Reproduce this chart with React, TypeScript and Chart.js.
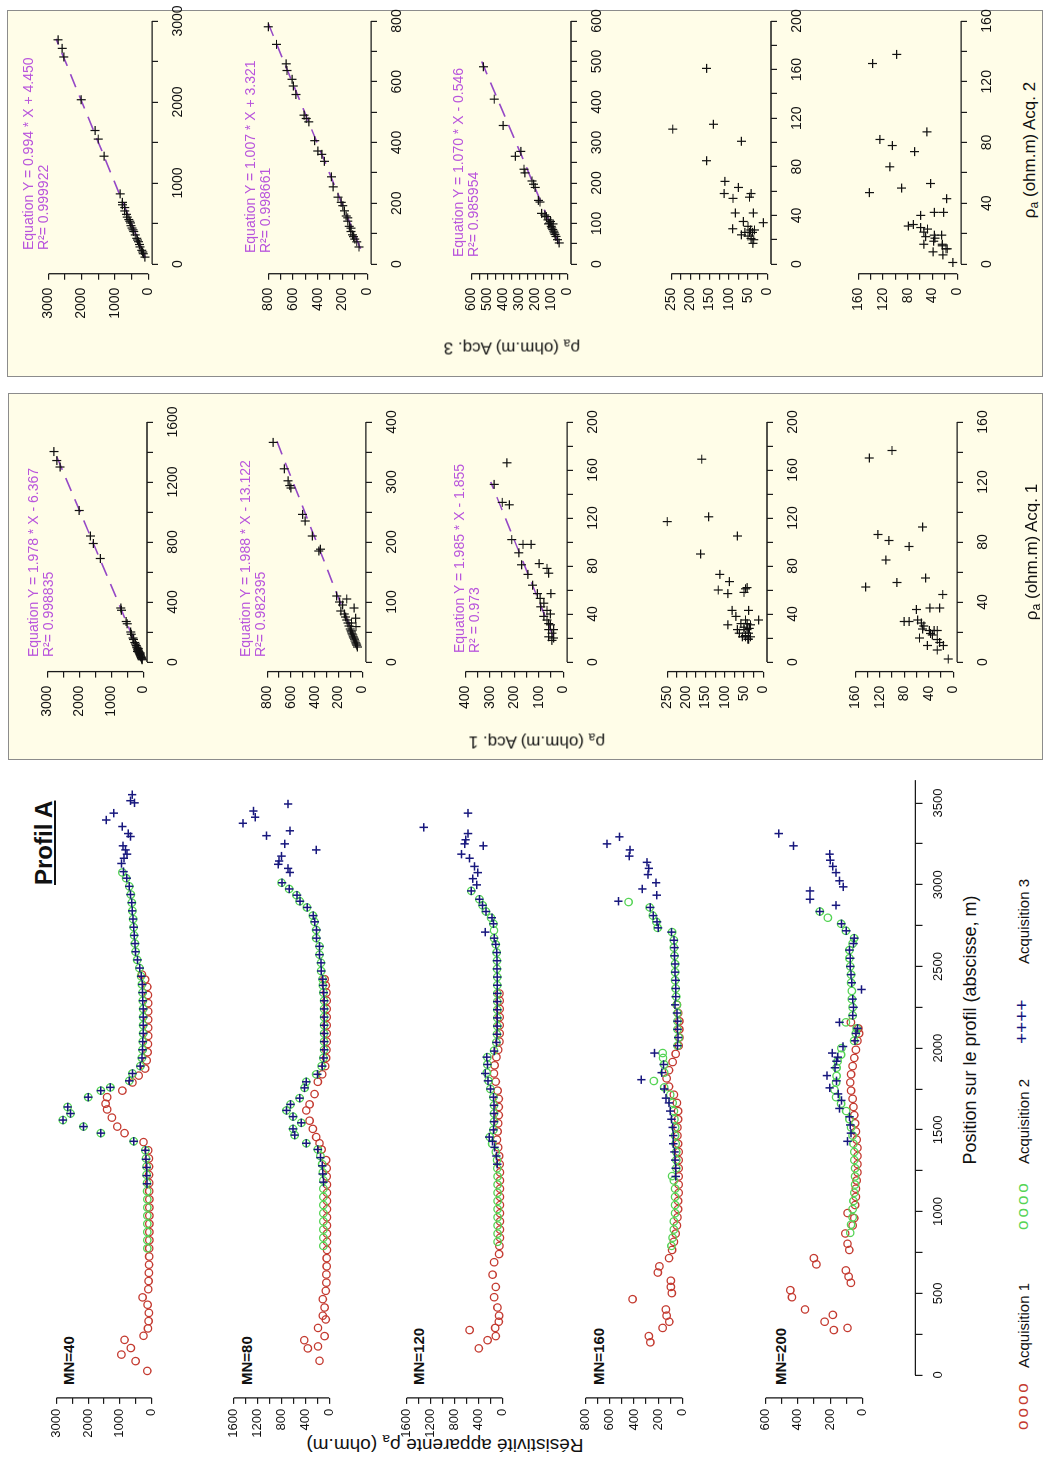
import React, { useEffect, useRef } from 'react';
import { Chart, registerables } from 'chart.js';

Chart.register(...registerables);

const FONT = '"Liberation Sans", Arial, Helvetica, sans-serif';

// ================= Tick values / labels =================
const POS_TICKS = [0, 250, 500, 750, 1000, 1250, 1500, 1750, 2000, 2250, 2500, 2750, 3000, 3250, 3500];
const POS_LABELS = [0, 500, 1000, 1500, 2000, 2500, 3000, 3500];
const T3000 = [0, 500, 1000, 1500, 2000, 2500, 3000];
const L3000 = [0, 1000, 2000, 3000];
const T1600 = [0, 200, 400, 600, 800, 1000, 1200, 1400, 1600];
const L1600 = [0, 400, 800, 1200, 1600];
const T800 = [0, 100, 200, 300, 400, 500, 600, 700, 800];
const L800 = [0, 200, 400, 600, 800];
const T600P = [0, 100, 200, 300, 400, 500, 600];
const L600P = [0, 200, 400, 600];
const T600 = [0, 50, 100, 150, 200, 250, 300, 350, 400, 450, 500, 550, 600];
const L600 = [0, 100, 200, 300, 400, 500, 600];
const T400 = [0, 50, 100, 150, 200, 250, 300, 350, 400];
const L400 = [0, 100, 200, 300, 400];
const T250 = [0, 25, 50, 75, 100, 125, 150, 175, 200, 225, 250];
const L250 = [0, 50, 100, 150, 200, 250];
const T200 = [0, 20, 40, 60, 80, 100, 120, 140, 160, 180, 200];
const L200 = [0, 40, 80, 120, 160, 200];
const T160 = [0, 20, 40, 60, 80, 100, 120, 140, 160];
const L160 = [0, 40, 80, 120, 160];

// ================= Profil A data: [position (m), rho_a (ohm.m)] =================
const MN40_ACQ1 = [[25,130],[85,500],[125,950],[165,650],[215,850],[240,250],[285,110],[330,90],[380,80],[430,120],[475,280],[525,100],[575,90],[625,80],[675,75],[725,70],[775,70],[825,65],[875,65],[925,65],[975,65],[1025,65],[1075,65],[1125,70],[1175,70],[1225,75],[1275,75],[1325,80],[1375,100],[1425,250],[1480,850],[1520,1080],[1575,1250],[1625,1400],[1660,1450],[1700,1400],[1740,920],[1790,600],[1832,400],[1875,200],[1925,150],[1975,120],[2025,110],[2075,100],[2125,100],[2175,100],[2225,100],[2275,100],[2325,110],[2375,130],[2420,200],[2450,300]];
const MN40_ACQ2 = [[775,130],[825,130],[875,130],[925,130],[975,130],[1025,130],[1075,130],[1125,135],[1175,140],[1225,150],[1275,150],[1325,170],[1375,190],[1430,560],[1480,1600],[1520,2150],[1560,2800],[1600,2560],[1640,2650],[1700,2000],[1740,1600],[1760,1300],[1800,700],[1845,600],[1890,350],[1940,300],[1990,280],[2040,270],[2090,260],[2140,260],[2190,260],[2240,260],[2290,270],[2340,280],[2390,300],[2440,330],[2490,380],[2540,450],[2590,500],[2640,520],[2690,550],[2740,560],[2790,580],[2840,600],[2890,620],[2940,650],[2990,700],[3040,800],[3075,920]];
const MN40_ACQ3 = [[1170,140],[1220,150],[1270,150],[1320,170],[1375,190],[1430,560],[1480,1600],[1520,2150],[1560,2800],[1600,2560],[1640,2650],[1700,2000],[1740,1600],[1760,1300],[1800,700],[1845,600],[1890,350],[1940,300],[1990,280],[2040,270],[2090,260],[2140,255],[2190,260],[2240,260],[2290,270],[2340,280],[2390,290],[2440,320],[2490,370],[2540,440],[2590,500],[2640,520],[2690,540],[2740,560],[2790,580],[2840,610],[2890,620],[2940,660],[2990,700],[3040,780],[3080,880],[3130,945],[3162,870],[3187,770],[3213,820],[3238,900],[3295,660],[3313,735],[3356,920],[3396,1430],[3438,1190],[3501,535],[3514,660],[3551,610]];

const MN80_ACQ1 = [[87,165],[163,360],[175,190],[213,420],[238,80],[288,190],[340,60],[363,110],[413,80],[464,110],[515,60],[565,50],[615,50],[665,45],[715,45],[765,40],[815,40],[865,40],[915,40],[965,40],[1015,40],[1065,40],[1115,40],[1165,40],[1215,45],[1265,45],[1315,55],[1380,130],[1418,165],[1456,220],[1506,276],[1556,331],[1619,386],[1656,331],[1719,248],[1794,193],[1840,120],[1890,70],[1940,55],[1990,50],[2040,45],[2090,45],[2140,45],[2190,45],[2240,45],[2290,45],[2340,50],[2384,60],[2422,80]];
const MN80_ACQ2 = [[790,100],[840,100],[890,100],[940,100],[990,100],[1040,100],[1090,100],[1140,100],[1190,100],[1240,110],[1290,120],[1340,150],[1380,193],[1418,386],[1468,580],[1506,607],[1543,469],[1581,607],[1619,717],[1656,650],[1694,497],[1757,414],[1794,386],[1840,220],[1890,130],[1940,100],[1990,90],[2040,90],[2090,90],[2140,90],[2190,90],[2240,90],[2290,90],[2340,100],[2384,110],[2422,115],[2472,138],[2522,140],[2572,165],[2623,165],[2673,220],[2723,220],[2773,248],[2811,276],[2861,375],[2899,497],[2936,550],[2974,673],[3012,800]];
const MN80_ACQ3 = [[1180,100],[1230,110],[1280,120],[1330,150],[1380,193],[1418,386],[1468,580],[1506,607],[1543,469],[1581,607],[1619,717],[1656,650],[1694,497],[1757,414],[1794,386],[1840,200],[1890,120],[1940,95],[1990,85],[2040,85],[2090,85],[2140,85],[2190,85],[2240,85],[2290,85],[2340,95],[2384,105],[2422,110],[2472,135],[2522,140],[2572,165],[2623,165],[2673,215],[2723,215],[2773,245],[2811,270],[2861,370],[2899,490],[2936,540],[2974,670],[3012,790],[3075,660],[3100,690],[3125,855],[3145,840],[3175,800],[3213,220],[3250,745],[3300,1050],[3330,660],[3376,1445],[3413,1240],[3451,1270],[3494,690]];

const MN120_ACQ1 = [[163,394],[213,247],[238,110],[275,548],[288,120],[326,60],[363,55],[413,82],[476,137],[539,110],[614,164],[690,137],[740,55],[790,50],[840,40],[890,40],[940,40],[990,40],[1040,40],[1090,40],[1140,40],[1190,40],[1240,40],[1290,45],[1340,55],[1393,70],[1440,90],[1490,80],[1540,70],[1590,60],[1640,60],[1690,60],[1740,80],[1795,110],[1845,140],[1895,130],[1945,100],[1990,70],[2040,50],[2090,45],[2140,45],[2190,45],[2240,45],[2290,45],[2334,50]];
const MN120_ACQ2 = [[815,80],[865,80],[915,80],[965,80],[1015,80],[1065,80],[1115,80],[1165,80],[1215,80],[1265,85],[1315,90],[1365,110],[1415,170],[1456,210],[1500,150],[1550,140],[1600,140],[1650,140],[1700,150],[1750,200],[1800,230],[1850,260],[1900,250],[1945,250],[1985,140],[2035,100],[2085,90],[2135,85],[2185,85],[2235,85],[2285,85],[2335,85],[2385,85],[2435,85],[2485,90],[2535,90],[2585,95],[2635,110],[2673,140],[2720,140],[2761,150],[2798,190],[2836,274],[2874,330],[2911,384],[2962,520]];
const MN120_ACQ3 = [[1290,85],[1340,100],[1393,130],[1430,164],[1456,219],[1500,150],[1550,140],[1600,140],[1650,140],[1700,150],[1750,200],[1800,240],[1845,285],[1900,250],[1945,263],[1982,137],[2035,100],[2085,90],[2135,85],[2185,85],[2235,85],[2285,85],[2335,85],[2385,85],[2435,85],[2485,90],[2535,90],[2585,95],[2635,110],[2673,137],[2710,285],[2761,150],[2798,175],[2836,274],[2874,330],[2911,384],[2962,520],[2999,427],[3037,493],[3074,411],[3112,466],[3162,548],[3187,685],[3238,318],[3250,630],[3275,614],[3313,575],[3351,1315],[3438,575]];

const MN160_ACQ1 = [[200,265],[238,277],[288,163],[326,108],[363,130],[401,136],[464,412],[501,87],[539,95],[577,95],[627,203],[665,190],[715,110],[765,85],[815,70],[865,55],[915,45],[965,40],[1015,35],[1065,35],[1115,30],[1165,30],[1215,30],[1265,30],[1315,30],[1365,30],[1415,35],[1465,40],[1515,40],[1565,35],[1615,35],[1665,45],[1715,70],[1765,110],[1815,130],[1865,110],[1915,80],[1965,55],[2015,30],[2065,25],[2115,25],[2165,25],[2215,35],[2265,45]];
const MN160_ACQ2 = [[790,90],[840,80],[890,70],[940,70],[990,60],[1040,60],[1090,60],[1140,60],[1190,70],[1217,85],[1265,50],[1315,50],[1365,50],[1415,55],[1465,60],[1515,60],[1565,65],[1615,70],[1665,80],[1715,100],[1760,150],[1799,236],[1850,150],[1900,150],[1940,160],[1970,163],[2015,40],[2065,30],[2115,40],[2165,40],[2215,40],[2265,45],[2315,50],[2365,55],[2415,60],[2465,60],[2515,60],[2565,65],[2615,70],[2660,70],[2710,85],[2736,205],[2773,215],[2811,245],[2861,270],[2894,445]];
const MN160_ACQ3 = [[1215,55],[1265,55],[1315,60],[1365,65],[1415,75],[1465,75],[1515,80],[1565,90],[1615,100],[1665,110],[1694,136],[1750,150],[1807,339],[1850,170],[1900,155],[1970,230],[2015,40],[2065,35],[2115,40],[2165,40],[2215,45],[2265,60],[2315,55],[2365,55],[2415,55],[2465,60],[2515,60],[2565,65],[2615,65],[2660,70],[2710,90],[2736,200],[2773,210],[2811,240],[2861,265],[2899,529],[2936,212],[2974,331],[3012,217],[3062,285],[3100,277],[3137,293],[3175,439],[3213,434],[3250,624],[3293,521]];

const MN200_ACQ1 = [[275,177],[288,92],[326,234],[368,183],[401,356],[476,437],[519,447],[564,71],[602,85],[640,102],[677,285],[715,301],[765,81],[803,92],[866,106],[915,60],[960,50],[991,92],[1040,45],[1090,40],[1140,40],[1190,35],[1240,30],[1290,30],[1340,30],[1390,30],[1440,35],[1490,40],[1540,45],[1590,50],[1640,55],[1690,60],[1740,70],[1790,75],[1840,70],[1890,60],[1940,50],[1990,40],[2045,30],[2090,20],[2121,25],[2158,71]];
const MN200_ACQ2 = [[870,75],[920,70],[965,60],[1015,60],[1065,55],[1115,50],[1165,45],[1215,45],[1265,45],[1315,50],[1365,50],[1415,55],[1465,60],[1515,70],[1565,80],[1615,100],[1660,132],[1700,163],[1745,173],[1790,163],[1830,160],[1880,160],[1920,153],[1960,132],[2000,130],[2045,51],[2090,40],[2121,35],[2158,102],[2200,60],[2250,60],[2300,65],[2350,65],[2400,70],[2450,70],[2500,75],[2550,80],[2600,80],[2640,60],[2673,51],[2718,102],[2761,132],[2798,214],[2836,264]];
const MN200_ACQ3 = [[1430,92],[1480,70],[1530,75],[1580,80],[1631,142],[1680,130],[1720,150],[1757,203],[1800,160],[1832,220],[1880,170],[1920,160],[1945,153],[1970,187],[2010,120],[2045,45],[2090,40],[2121,30],[2158,142],[2200,60],[2250,55],[2300,60],[2359,5],[2400,65],[2450,70],[2500,75],[2550,75],[2600,80],[2640,55],[2673,50],[2718,100],[2761,130],[2836,264],[2874,163],[2911,325],[2962,325],[2987,118],[3024,142],[3074,163],[3112,183],[3150,199],[3187,203],[3238,427],[3313,519]];

// ================= Correlation panels: [x, y] =================
const ACQ1_P1 = [[1403,2790],[1343,2700],[1300,2600],[1010,2000],[840,1650],[790,1560],[690,1340],[360,700],[345,680],[270,530],[255,500],[200,390],[185,370],[160,320],[150,300],[130,260],[120,240],[110,220],[100,200],[95,190],[85,170],[80,160],[75,150],[70,140],[65,130],[60,120],[55,110],[50,100],[45,90],[40,85],[35,70],[30,60],[25,50],[20,40],[15,30],[90,150],[70,180],[60,90]];
const ACQ1_P2 = [[366,750],[322,656],[302,624],[294,610],[290,600],[246,502],[235,480],[210,420],[185,365],[188,352],[110,215],[100,190],[95,165],[85,180],[80,150],[75,140],[70,130],[65,120],[60,110],[55,100],[52,95],[50,90],[47,85],[45,80],[42,75],[40,70],[38,65],[35,60],[32,55],[30,50],[28,45],[25,40],[90,68],[73,55],[59,52],[105,130],[65,90]];
const ACQ1_P3 = [[148,282],[166,230],[133,249],[131,220],[102,210],[91,181],[98,164],[81,170],[98,131],[73,144],[82,98],[78,66],[74,59],[57,50],[57,105],[64,125],[46,92],[43,66],[38,79],[35,66],[32,59],[31,52],[24,46],[20,39],[18,46],[27,59],[49,79],[53,94],[40,52],[21,59],[27,39]];
const ACQ1_P4 = [[117,250],[169,160],[90,163],[121,142],[105,67],[73,113],[60,117],[67,88],[57,92],[43,81],[61,46],[62,42],[58,50],[43,38],[35,12],[31,92],[38,71],[27,67],[24,62],[35,46],[29,50],[27,42],[24,38],[21,46],[19,38],[32,58],[32,42],[31,33],[27,50],[22,46],[21,54],[28,36],[21,33],[19,40]];
const ACQ1_P5 = [[136,137],[141,100],[85,123],[81,105],[77,72],[90,50],[68,110],[50,143],[53,92],[56,45],[45,17],[35,60],[36,38],[36,22],[27,80],[27,72],[28,58],[26,52],[24,48],[16,55],[21,39],[19,37],[21,31],[21,26],[11,42],[15,26],[13,22],[11,16],[8,26],[2,8],[18,34],[22,50]];

const ACQ3_P1 = [[2768,2710],[2662,2584],[2556,2535],[2028,2013],[1648,1597],[1542,1500],[1331,1326],[866,842],[761,774],[697,706],[613,648],[549,580],[507,532],[444,484],[359,387],[317,339],[275,290],[211,242],[169,194],[127,145],[85,97],[655,706],[579,629],[473,513],[401,435],[296,319],[241,261],[148,165],[731,774],[528,552],[422,455]];
const ACQ3_P2 = [[781,800],[723,734],[659,656],[637,649],[608,608],[586,598],[558,577],[490,511],[479,493],[468,472],[406,425],[372,399],[361,367],[338,346],[287,289],[254,275],[220,236],[192,197],[175,184],[158,170],[141,157],[124,144],[107,131],[96,118],[82,100],[73,84],[56,66],[203,210],[152,157],[118,131],[90,110]];
const ACQ3_P3 = [[487,524],[407,456],[342,400],[266,324],[278,290],[234,270],[225,264],[205,220],[197,210],[189,200],[157,180],[153,170],[125,160],[121,140],[109,120],[101,110],[93,100],[85,90],[77,80],[68,70],[60,60],[52,50],[105,104],[89,96],[81,84],[73,76],[117,130],[99,116],[99,88]];
const ACQ3_P4 = [[111,246],[161,158],[115,140],[85,158],[101,67],[68,110],[58,112],[63,75],[54,89],[58,42],[55,46],[34,10],[42,36],[42,83],[29,90],[35,62],[24,67],[31,50],[26,46],[21,42],[20,35],[28,43],[26,58],[26,38],[23,50],[28,33],[17,37]];
const ACQ3_P5 = [[132,137],[138,98],[82,125],[78,105],[74,69],[87,49],[64,109],[47,142],[50,90],[53,43],[43,17],[32,59],[34,37],[34,22],[25,79],[26,71],[24,59],[21,54],[18,51],[13,54],[19,37],[17,36],[19,25],[13,24],[8,39],[12,24],[10,18],[10,16],[6,23],[1,7],[23,48],[15,38]];

// regression fits: slope, intercept, x range of the dashed line, texts
const ACQ1_FITS = [
  { a: 1.978, b: -6.367, from: 10, to: 1420, eq: 'Equation Y = 1.978 * X - 6.367', r2: 'R²= 0.998835' },
  { a: 1.988, b: -13.122, from: 25, to: 375, eq: 'Equation Y = 1.988 * X - 13.122', r2: 'R²= 0.982395' },
  { a: 1.985, b: -1.855, from: 20, to: 150, eq: 'Equation Y = 1.985 * X - 1.855', r2: 'R² = 0.973' },
];
const ACQ3_FITS = [
  { a: 0.994, b: 4.45, from: 80, to: 2780, eq: 'Equation Y = 0.994 * X + 4.450', r2: 'R²= 0.999922' },
  { a: 1.007, b: 3.321, from: 50, to: 790, eq: 'Equation Y = 1.007 * X + 3.321', r2: 'R²= 0.998661' },
  { a: 1.07, b: -0.546, from: 50, to: 500, eq: 'Equation Y = 1.070 * X - 0.546', r2: 'R²= 0.985954' },
];

// ================= Styles =================
const C_ACQ1 = '#C43A30';
const C_ACQ2 = '#55D455';
const C_ACQ3 = '#17177E';
const C_FIT = '#9548C6';
const C_EQ = '#B955DC';
const BOX_BG = '#FFFDE8';
const BOX_BORDER = '#8C8C8C';

// ================= Layout (landscape coordinates, rotated afterwards) =================
const PROFIL_X = { p0: 89, pM: 661 };
const PROFIL_ROWS = [
  { pyM: 56, py0: 152, labelY: 61 },
  { pyM: 233, py0: 330, labelY: 239 },
  { pyM: 406, py0: 503, labelY: 411 },
  { pyM: 585, py0: 683, labelY: 591 },
  { pyM: 765, py0: 863, labelY: 773 },
];
const ACQ1_X = { p0: 802, pM: 1042 };
const ACQ1_ROWS = [
  { pyM: 43, py0: 143 }, { pyM: 263, py0: 362 }, { pyM: 462, py0: 563 }, { pyM: 663, py0: 763 }, { pyM: 852, py0: 953 },
];
const ACQ3_X = { p0: 1200, pM: 1443 };
const ACQ3_ROWS = [
  { pyM: 45, py0: 148 }, { pyM: 265, py0: 367 }, { pyM: 467, py0: 567 }, { pyM: 667, py0: 767 }, { pyM: 855, py0: 957 },
];
const ACQ1_EQ_POS = [{ x: 807, y: 26 }, { x: 807, y: 238 }, { x: 811, y: 452 }];
const ACQ3_EQ_POS = [{ x: 1214, y: 21 }, { x: 1211, y: 243 }, { x: 1207, y: 451 }];

type Pair = number[];
const toXY = (pairs: Pair[]) => pairs.map((p) => ({ x: p[0], y: p[1] }));

function circles(pairs: Pair[], color: string) {
  return {
    data: toXY(pairs), showLine: false, clip: false,
    pointStyle: 'circle', pointRadius: 3.7, pointBorderWidth: 1.3,
    pointBorderColor: color, pointBackgroundColor: 'rgba(0,0,0,0)',
    borderColor: color, backgroundColor: 'rgba(0,0,0,0)',
  };
}
function crosses(pairs: Pair[], color: string, r: number, w: number) {
  return {
    data: toXY(pairs), showLine: false, clip: false,
    pointStyle: 'cross', pointRadius: r, pointBorderWidth: w,
    pointBorderColor: color, pointBackgroundColor: color,
    borderColor: color, backgroundColor: color,
  };
}
function fitLine(f: any) {
  return {
    data: [{ x: f.from, y: f.a * f.from + f.b }, { x: f.to, y: f.a * f.to + f.b }],
    showLine: true, clip: false, pointRadius: 0, borderColor: C_FIT, borderWidth: 1.6,
    borderDash: [14, 9], backgroundColor: C_FIT, fill: false,
  };
}

interface AxisCfg { max: number; ticks: number[]; labels: number[]; show: boolean; font: number; tickLength: number; padding: number; line?: number[]; }
interface PanelCfg {
  px0: number; pxM: number; pyM: number; py0: number; x: AxisCfg; y: AxisCfg;
  leftSpace: number; bottomSpace: number; padTop: number; padRight: number; datasets: any[];
}

function buildPanel(cfg: PanelCfg) {
  const sx = (cfg.pxM - cfg.px0) / cfg.x.max;
  const sy = (cfg.py0 - cfg.pyM) / cfg.y.max;
  const xmin = -0.04 * cfg.x.max, xmax = 1.04 * cfg.x.max;
  const ymin = -0.04 * cfg.y.max, ymax = 1.04 * cfg.y.max;
  const l = cfg.px0 + xmin * sx, r = cfg.px0 + xmax * sx;
  const t = cfg.py0 - ymax * sy, b = cfg.py0 - ymin * sy;
  const cl = Math.floor(l - cfg.leftSpace), ct = Math.floor(t - cfg.padTop);
  const cr = Math.ceil(r + cfg.padRight), cb = Math.ceil(b + cfg.bottomSpace);
  const w = cr - cl, h = cb - ct;
  const leftW = l - cl, bottomH = cb - b, padT = t - ct, padR = cr - r;

  const axis = (a: AxisCfg, horizontal: boolean, min: number, max: number, fit: number) => {
    const sc: any = {
      type: 'linear', min, max, display: a.show, position: horizontal ? 'bottom' : 'left',
      afterBuildTicks: (s: any) => { s.ticks = a.ticks.map((v) => ({ value: v })); },
      ticks: {
        autoSkip: false, maxRotation: 0, minRotation: 0, padding: a.padding, color: '#111',
        font: { size: a.font, family: FONT },
        callback: (v: number) => (a.labels.indexOf(v) >= 0 ? String(v) : ''),
      },
      grid: { display: true, drawOnChartArea: false, drawTicks: true, tickLength: a.tickLength, color: '#1a1a1a', lineWidth: 1.2 },
      border: { display: false },
    };
    if (a.show) sc.afterFit = (s: any) => { if (horizontal) s.height = fit; else s.width = fit; };
    return sc;
  };

  const xLine = cfg.x.show ? (cfg.x.line || [cfg.x.ticks[0], cfg.x.ticks[cfg.x.ticks.length - 1]]) : null;
  const yLine = cfg.y.show ? (cfg.y.line || [cfg.y.ticks[0], cfg.y.ticks[cfg.y.ticks.length - 1]]) : null;
  const rAxis = {
    id: 'rAxis',
    afterDraw(chart: any) {
      const ctx = chart.ctx;
      ctx.save();
      ctx.strokeStyle = '#1a1a1a';
      ctx.lineWidth = 1.3;
      if (xLine) {
        const s = chart.scales.x;
        ctx.beginPath();
        ctx.moveTo(s.getPixelForValue(xLine[0]), s.top);
        ctx.lineTo(s.getPixelForValue(xLine[1]), s.top);
        ctx.stroke();
      }
      if (yLine) {
        const s = chart.scales.y;
        ctx.beginPath();
        ctx.moveTo(s.right, s.getPixelForValue(yLine[0]));
        ctx.lineTo(s.right, s.getPixelForValue(yLine[1]));
        ctx.stroke();
      }
      ctx.restore();
    },
  };

  const config: any = {
    type: 'scatter',
    data: { datasets: cfg.datasets },
    options: {
      responsive: false, animation: false, devicePixelRatio: 1, events: [],
      layout: { padding: { left: cfg.y.show ? 0 : leftW, right: padR, top: padT, bottom: cfg.x.show ? 0 : bottomH } },
      plugins: { legend: { display: false }, tooltip: { enabled: false } },
      scales: { x: axis(cfg.x, true, xmin, xmax, bottomH), y: axis(cfg.y, false, ymin, ymax, leftW) },
    },
    plugins: [rAxis],
  };
  return { left: cl, top: ct, w, h, config };
}

function ChartCanvas({ spec }: { spec: any }) {
  const ref = useRef<HTMLCanvasElement>(null);
  useEffect(() => {
    const chart = new Chart(ref.current as HTMLCanvasElement, spec.config);
    return () => chart.destroy();
  }, []);
  return (
    <canvas ref={ref} width={spec.w} height={spec.h}
      style={{ position: 'absolute', left: spec.left, top: spec.top, width: spec.w, height: spec.h }} />
  );
}

// ---------- Profil A panel specs ----------
const PROFIL_PANELS = [
  { name: 'MN=40', acq1: MN40_ACQ1, acq2: MN40_ACQ2, acq3: MN40_ACQ3, yMax: 3000, yTicks: T3000, yLabels: L3000 },
  { name: 'MN=80', acq1: MN80_ACQ1, acq2: MN80_ACQ2, acq3: MN80_ACQ3, yMax: 1600, yTicks: T1600, yLabels: L1600 },
  { name: 'MN=120', acq1: MN120_ACQ1, acq2: MN120_ACQ2, acq3: MN120_ACQ3, yMax: 1600, yTicks: T1600, yLabels: L1600 },
  { name: 'MN=160', acq1: MN160_ACQ1, acq2: MN160_ACQ2, acq3: MN160_ACQ3, yMax: 800, yTicks: T800, yLabels: L800 },
  { name: 'MN=200', acq1: MN200_ACQ1, acq2: MN200_ACQ2, acq3: MN200_ACQ3, yMax: 600, yTicks: T600P, yLabels: L600P },
];

const profilSpecs = PROFIL_PANELS.map((p, i) => buildPanel({
  px0: PROFIL_X.p0, pxM: PROFIL_X.pM, pyM: PROFIL_ROWS[i].pyM, py0: PROFIL_ROWS[i].py0,
  x: { max: 3500, ticks: POS_TICKS, labels: POS_LABELS, show: false, font: 13, tickLength: 7, padding: 8 },
  y: { max: p.yMax, ticks: p.yTicks, labels: p.yLabels, show: true, font: 13, tickLength: 6, padding: 5 },
  leftSpace: 60, bottomSpace: 12, padTop: 12, padRight: 16,
  datasets: [crosses(p.acq3, C_ACQ3, 4.2, 1.5), circles(p.acq2, C_ACQ2), circles(p.acq1, C_ACQ1)],
}));

const positionAxisSpec = buildPanel({
  px0: PROFIL_X.p0, pxM: PROFIL_X.pM, pyM: 905, py0: 915,
  x: { max: 3500, ticks: POS_TICKS, labels: POS_LABELS, show: true, font: 13, tickLength: 7, padding: 8, line: [0, 3640] },
  y: { max: 1, ticks: [0, 1], labels: [], show: false, font: 13, tickLength: 6, padding: 5 },
  leftSpace: 30, bottomSpace: 40, padTop: 2, padRight: 24, datasets: [],
});

// ---------- correlation panel specs ----------
const ACQ1_PANELS = [
  { pts: ACQ1_P1, xMax: 1600, xT: T1600, xL: L1600, yMax: 3000, yT: T3000, yL: L3000, fit: ACQ1_FITS[0] },
  { pts: ACQ1_P2, xMax: 400, xT: T400, xL: L400, yMax: 800, yT: T800, yL: L800, fit: ACQ1_FITS[1] },
  { pts: ACQ1_P3, xMax: 200, xT: T200, xL: L200, yMax: 400, yT: T400, yL: L400, fit: ACQ1_FITS[2] },
  { pts: ACQ1_P4, xMax: 200, xT: T200, xL: L200, yMax: 250, yT: T250, yL: L250, fit: null },
  { pts: ACQ1_P5, xMax: 160, xT: T160, xL: L160, yMax: 160, yT: T160, yL: L160, fit: null },
];
const ACQ3_PANELS = [
  { pts: ACQ3_P1, xMax: 3000, xT: T3000, xL: L3000, yMax: 3000, yT: T3000, yL: L3000, fit: ACQ3_FITS[0] },
  { pts: ACQ3_P2, xMax: 800, xT: T800, xL: L800, yMax: 800, yT: T800, yL: L800, fit: ACQ3_FITS[1] },
  { pts: ACQ3_P3, xMax: 600, xT: T600, xL: L600, yMax: 600, yT: T600, yL: L600, fit: ACQ3_FITS[2] },
  { pts: ACQ3_P4, xMax: 200, xT: T200, xL: L200, yMax: 250, yT: T250, yL: L250, fit: null },
  { pts: ACQ3_P5, xMax: 160, xT: T160, xL: L160, yMax: 160, yT: T160, yL: L160, fit: null },
];

function corrSpecs(panels: any[], X: any, rows: any[]) {
  return panels.map((p, i) => buildPanel({
    px0: X.p0, pxM: X.pM, pyM: rows[i].pyM, py0: rows[i].py0,
    x: { max: p.xMax, ticks: p.xT, labels: p.xL, show: true, font: 14, tickLength: 6, padding: 12 },
    y: { max: p.yMax, ticks: p.yT, labels: p.yL, show: true, font: 14, tickLength: 6, padding: 8 },
    leftSpace: 62, bottomSpace: 42, padTop: 12, padRight: 22,
    datasets: p.fit ? [crosses(p.pts, '#111', 4.5, 1.2), fitLine(p.fit)] : [crosses(p.pts, '#111', 4.5, 1.2)],
  }));
}
const acq1Specs = corrSpecs(ACQ1_PANELS, ACQ1_X, ACQ1_ROWS);
const acq3Specs = corrSpecs(ACQ3_PANELS, ACQ3_X, ACQ3_ROWS);

// ---------- small text helpers ----------
const Rho = () => (<span>ρ<sub style={{ fontSize: '0.72em', verticalAlign: '-0.28em', lineHeight: 0 }}>a</sub></span>);

function VText({ cx, cy, size, children }: any) {
  return (
    <div style={{ position: 'absolute', left: cx, top: cy, transform: 'translate(-50%, -50%) rotate(-90deg)', whiteSpace: 'nowrap', fontSize: size, lineHeight: 1 }}>
      {children}
    </div>
  );
}
function HText({ x, y, size, style, children }: any) {
  return (
    <div style={{ position: 'absolute', left: x, top: y, whiteSpace: 'nowrap', fontSize: size, lineHeight: 1, ...style }}>
      {children}
    </div>
  );
}

export default function App() {
  useEffect(() => {
    document.documentElement.style.overflow = 'hidden';
    document.body.style.overflow = 'hidden';
  }, []);

  return (
    <div style={{
      position: 'absolute', left: 0, top: 0, width: 1464, height: 1047, background: '#fff',
      transformOrigin: '0 0', transform: 'translate(0px, 1464px) rotate(-90deg)', fontFamily: FONT, color: '#111',
    }}>
      {/* ----- Profil A ----- */}
      <HText x={579} y={32} size={24} style={{ fontWeight: 'bold', textDecoration: 'underline' }}>Profil A</HText>
      <VText cx={19} cy={445} size={19}>Résistivité apparente <Rho /> (ohm.m)</VText>
      {PROFIL_PANELS.map((p, i) => (
        <HText key={p.name} x={79} y={PROFIL_ROWS[i].labelY} size={15} style={{ fontWeight: 'bold' }}>{p.name}</HText>
      ))}
      {profilSpecs.map((s, i) => <ChartCanvas key={'p' + i} spec={s} />)}
      <ChartCanvas spec={positionAxisSpec} />
      <div style={{ position: 'absolute', left: 184, width: 500, top: 961, textAlign: 'center', fontSize: 18, lineHeight: 1 }}>
        Position sur le profil (abscisse, m)
      </div>
      {/* legend */}
      <HText x={34} y={1014} size={17} style={{ color: C_ACQ1, letterSpacing: 3 }}>oooo</HText>
      <HText x={96} y={1016} size={15}>Acquisition 1</HText>
      <HText x={234} y={1014} size={17} style={{ color: C_ACQ2, letterSpacing: 3 }}>oooo</HText>
      <HText x={300} y={1016} size={15}>Acquisition 2</HText>
      <HText x={420} y={1012} size={19} style={{ color: C_ACQ3, letterSpacing: 0 }}>++++</HText>
      <HText x={500} y={1016} size={15}>Acquisition 3</HText>

      {/* ----- Acq 1 box ----- */}
      <div style={{ position: 'absolute', left: 704, top: 8, width: 367, height: 1035, background: BOX_BG, border: `1.5px solid ${BOX_BORDER}`, boxSizing: 'border-box' }} />
      {acq1Specs.map((s, i) => <ChartCanvas key={'a1' + i} spec={s} />)}
      {ACQ1_FITS.map((f, i) => (
        <div key={'e1' + i} style={{ position: 'absolute', left: ACQ1_EQ_POS[i].x, top: ACQ1_EQ_POS[i].y, color: C_EQ, fontSize: 14, lineHeight: '15px', whiteSpace: 'nowrap' }}>
          {f.eq}<br />{f.r2}
        </div>
      ))}
      <VText cx={722} cy={537} size={17}><Rho /> (ohm.m) Acq. 1</VText>
      <div style={{ position: 'absolute', left: 812, width: 200, top: 1023, textAlign: 'center', fontSize: 17, lineHeight: 1 }}>
        <Rho /> (ohm.m) Acq. 1
      </div>

      {/* ----- Acq 3 / Acq 2 box ----- */}
      <div style={{ position: 'absolute', left: 1087, top: 7, width: 367, height: 1036, background: BOX_BG, border: `1.5px solid ${BOX_BORDER}`, boxSizing: 'border-box' }} />
      {acq3Specs.map((s, i) => <ChartCanvas key={'a3' + i} spec={s} />)}
      {ACQ3_FITS.map((f, i) => (
        <div key={'e3' + i} style={{ position: 'absolute', left: ACQ3_EQ_POS[i].x, top: ACQ3_EQ_POS[i].y, color: C_EQ, fontSize: 14, lineHeight: '15px', whiteSpace: 'nowrap' }}>
          {f.eq}<br />{f.r2}
        </div>
      ))}
      <VText cx={1116} cy={512} size={17}><Rho /> (ohm.m) Acq. 3</VText>
      <div style={{ position: 'absolute', left: 1214, width: 200, top: 1021, textAlign: 'center', fontSize: 17, lineHeight: 1 }}>
        <Rho /> (ohm.m) Acq. 2
      </div>
    </div>
  );
}
